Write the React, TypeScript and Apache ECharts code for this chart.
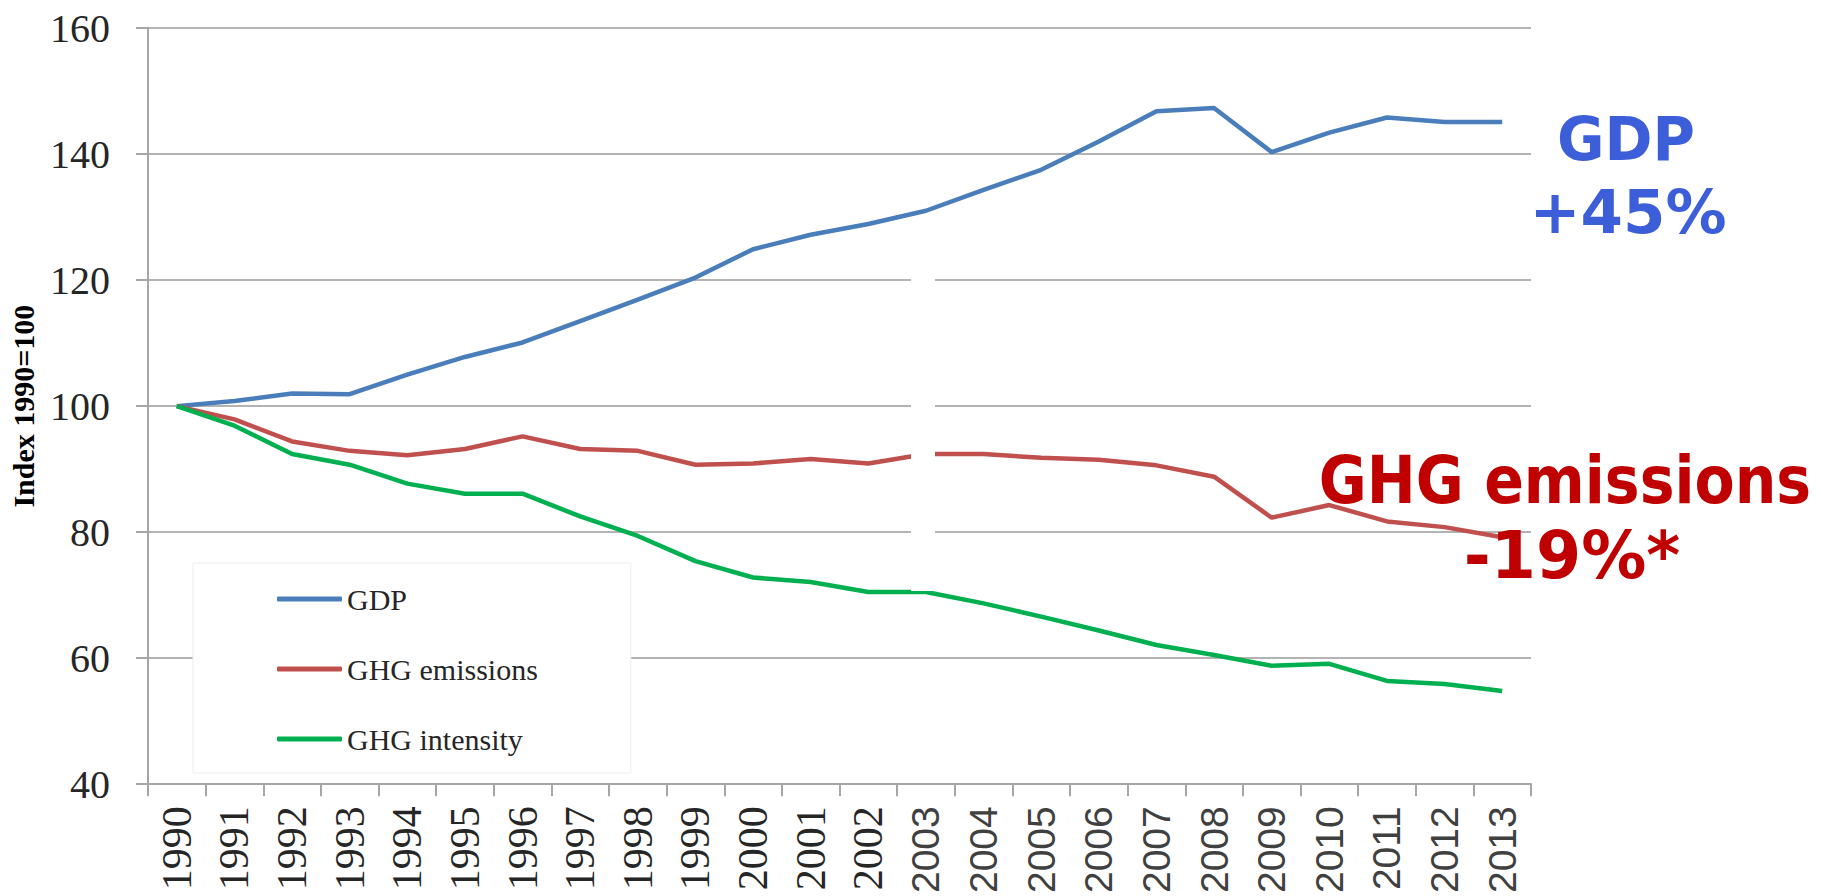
import React, { useEffect, useRef } from "react";
import * as echarts from "echarts";

const years = [
  "1990", "1991", "1992", "1993", "1994", "1995", "1996", "1997", "1998", "1999", "2000", "2001",
  "2002", "2003", "2004", "2005", "2006", "2007", "2008", "2009", "2010", "2011", "2012", "2013",
];
const gdp = [
  100, 100.8, 102.0, 101.9, 105.0, 107.8, 110.1, 113.5, 116.9, 120.4, 124.9, 127.2,
  128.9, 131.0, 134.3, 137.5, 142.0, 146.8, 147.3, 140.3, 143.4, 145.8, 145.1, 145.1,
];
const ghgEmissions = [
  100, 97.9, 94.4, 92.9, 92.2, 93.2, 95.2, 93.2, 92.9, 90.7, 90.9, 91.6,
  90.9, 92.4, 92.4, 91.8, 91.5, 90.6, 88.8, 82.3, 84.3, 81.7, 80.8, 79.2,
];
const ghgIntensity = [
  100, 96.9, 92.4, 90.7, 87.7, 86.1, 86.1, 82.5, 79.4, 75.4, 72.8, 72.1,
  70.5, 70.5, 68.7, 66.6, 64.4, 62.1, 60.5, 58.8, 59.1, 56.4, 55.9, 54.8,
];
const seriesNames = ["GDP", "GHG emissions", "GHG intensity"];
const seriesColors = ["#4a7ebb", "#c0504d", "#00b050"];
const yAxisTitle = "Index 1990=100";
const gdpNote = ["GDP", "+45%"];
const ghgNote = ["GHG emissions", "-19%*"];

export default function App() {
  const ref = useRef<HTMLDivElement>(null);

  useEffect(() => {
    if (!ref.current) return;
    const chart = echarts.init(ref.current, undefined, { renderer: "svg" });
    const axisColor = "#a6a6a6";
    const values = [gdp, ghgEmissions, ghgIntensity];
    const noteStyle = (text: string, fill: string, size: number) => ({
      text,
      x: 0,
      y: 0,
      fill,
      font: `bold ${size}px "DejaVu Sans"`,
      align: "center",
      verticalAlign: "middle",
      textAlign: "center",
      textVerticalAlign: "middle",
    });
    chart.setOption({
      animation: false,
      backgroundColor: "#ffffff",
      grid: { left: 148, right: 290, top: 28, bottom: 108, containLabel: false },
      xAxis: {
        type: "category",
        data: years,
        boundaryGap: true,
        axisLine: { lineStyle: { color: axisColor, width: 2 } },
        axisTick: { show: true, length: 12, lineStyle: { color: axisColor, width: 2 } },
        axisLabel: {
          rotate: 90,
          margin: 22,
          interval: 0,
          formatter: (v: string) => (Number(v) < 2003 ? `{s|${v}}` : `{n|${v}}`),
          rich: {
            s: { fontFamily: "Liberation Serif", fontSize: 42, color: "#262626" },
            n: { fontFamily: "Liberation Sans", fontSize: 39, color: "#404040" },
          },
        },
      },
      yAxis: {
        type: "value",
        min: 40,
        max: 160,
        interval: 20,
        name: yAxisTitle,
        nameLocation: "middle",
        nameRotate: 90,
        nameGap: 110,
        nameTextStyle: {
          fontFamily: "Liberation Serif",
          fontWeight: "bold",
          fontSize: 30,
          color: "#000000",
        },
        axisLine: { show: true, lineStyle: { color: axisColor, width: 2 } },
        axisTick: { show: true, length: 12, lineStyle: { color: axisColor, width: 2 } },
        axisLabel: {
          margin: 38,
          fontFamily: "Liberation Serif",
          fontSize: 40,
          color: "#262626",
        },
        splitLine: { lineStyle: { color: "#b3b3b3", width: 2 } },
      },
      legend: {
        data: seriesNames,
        orient: "vertical",
        left: 193,
        top: 563,
        padding: [21, 93, 19, 84],
        itemGap: 40,
        itemWidth: 65,
        itemHeight: 5,
        icon: "roundRect",
        backgroundColor: "#ffffff",
        borderColor: "#ececec",
        borderWidth: 1,
        textStyle: { fontFamily: "Liberation Serif", fontSize: 30, color: "#262626" },
      },
      series: seriesNames.map((name, i) => ({
        name,
        type: "line",
        data: values[i],
        symbol: "none",
        color: seriesColors[i],
        lineStyle: { width: 4.5, color: seriesColors[i] },
      })),
      graphic: [
        {
          type: "rect",
          z: 100,
          shape: { x: 911, y: 225, width: 24, height: 366 },
          style: { fill: "#ffffff" },
        },
        {
          type: "text",
          z: 100,
          x: 1626,
          y: 139,
          scaleX: 0.95,
          style: noteStyle(gdpNote[0], "#3d5ed9", 61),
        },
        {
          type: "text",
          z: 100,
          x: 1628,
          y: 211,
          style: noteStyle(gdpNote[1], "#3d5ed9", 61),
        },
        {
          type: "text",
          z: 100,
          x: 1565,
          y: 481,
          scaleX: 0.9,
          style: noteStyle(ghgNote[0], "#c00000", 65),
        },
        {
          type: "text",
          z: 100,
          x: 1572,
          y: 555,
          style: noteStyle(ghgNote[1], "#c00000", 65),
        },
      ],
    });
    return () => chart.dispose();
  }, []);

  return (
    <div
      ref={ref}
      style={{ position: "fixed", left: 0, top: 0, width: 1821, height: 896, background: "#fff" }}
    />
  );
}
